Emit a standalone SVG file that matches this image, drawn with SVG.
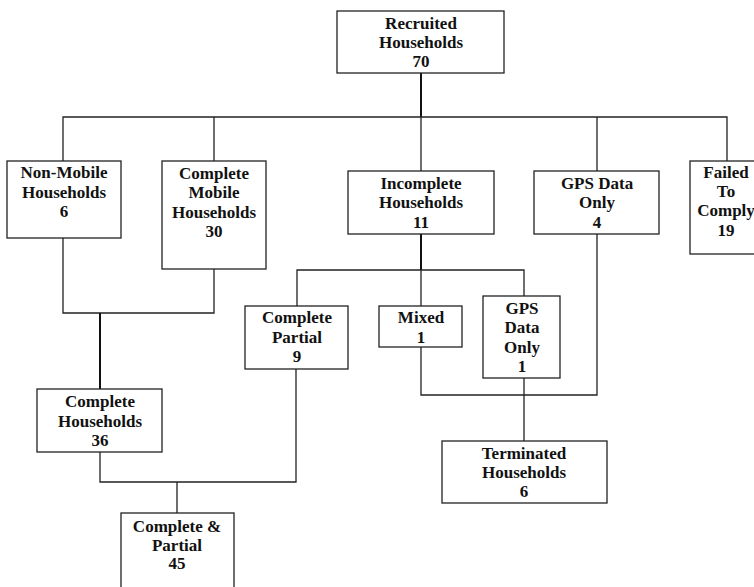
<svg xmlns="http://www.w3.org/2000/svg" width="754" height="587" viewBox="0 0 754 587">
<style>
.box{fill:#fff;stroke:#222;stroke-width:1.3}
.t{font-family:"Liberation Serif","Times New Roman",serif;font-weight:bold;font-size:17px;fill:#111;text-anchor:middle}
.c{fill:none;stroke:#222;stroke-width:1.3}
.k{fill:none;stroke:#111;stroke-width:2}
</style>
<rect width="754" height="587" fill="#fff"/>
<g id="connectors">
<path class="k" d="M421,73 V117"/>
<path class="c" d="M63,161 V117 H727 V161 M214,117 V161 M421,117 V171 M597,117 V171"/>
<path class="k" d="M421,234 V270"/>
<path class="c" d="M297,306 V270 H524 V296 M421,270 V306"/>
<path class="c" d="M421,347 V395 H597 V234 M524,378 V441"/>
<path class="c" d="M63,238 V313 H214 V269"/>
<path class="k" d="M100,313 V389"/>
<path class="c" d="M100,452 V482 H296 V369 M177,482 V513"/>
</g>
<g id="recruited"><rect class="box" x="337" y="11" width="167" height="62"/>
<text class="t" x="421" y="29">Recruited</text><text class="t" x="421" y="48">Households</text><text class="t" x="421" y="67">70</text></g>
<g id="nonmobile"><rect class="box" x="7" y="161" width="114" height="77"/>
<text class="t" x="64" y="178">Non-Mobile</text><text class="t" x="64" y="198">Households</text><text class="t" x="64" y="217">6</text></g>
<g id="completemobile"><rect class="box" x="162" y="161" width="104" height="108"/>
<text class="t" x="214" y="179">Complete</text><text class="t" x="214" y="198">Mobile</text><text class="t" x="214" y="218">Households</text><text class="t" x="214" y="237">30</text></g>
<g id="incomplete"><rect class="box" x="348" y="171" width="146" height="63"/>
<text class="t" x="421" y="189">Incomplete</text><text class="t" x="421" y="208">Households</text><text class="t" x="421" y="228">11</text></g>
<g id="gps4"><rect class="box" x="534" y="171" width="125" height="63"/>
<text class="t" x="597" y="189">GPS Data</text><text class="t" x="597" y="208">Only</text><text class="t" x="597" y="228">4</text></g>
<g id="failed"><rect class="box" x="690" y="161" width="74" height="93"/>
<text class="t" x="726" y="178">Failed</text><text class="t" x="726" y="197">To</text><text class="t" x="726" y="216">Comply</text><text class="t" x="726" y="236">19</text></g>
<g id="completepartial"><rect class="box" x="245" y="306" width="103" height="63"/>
<text class="t" x="297" y="323">Complete</text><text class="t" x="297" y="343">Partial</text><text class="t" x="297" y="362">9</text></g>
<g id="mixed"><rect class="box" x="379" y="306" width="83" height="41"/>
<text class="t" x="421" y="323">Mixed</text><text class="t" x="421" y="343">1</text></g>
<g id="gps1"><rect class="box" x="483" y="296" width="77" height="82"/>
<text class="t" x="522" y="314">GPS</text><text class="t" x="522" y="333">Data</text><text class="t" x="522" y="353">Only</text><text class="t" x="522" y="372">1</text></g>
<g id="completehouseholds"><rect class="box" x="37" y="389" width="125" height="63"/>
<text class="t" x="100" y="407">Complete</text><text class="t" x="100" y="427">Households</text><text class="t" x="100" y="446">36</text></g>
<g id="terminated"><rect class="box" x="442" y="441" width="165" height="62"/>
<text class="t" x="524" y="459">Terminated</text><text class="t" x="524" y="478">Households</text><text class="t" x="524" y="497">6</text></g>
<g id="completeandpartial"><rect class="box" x="121" y="513" width="113" height="80"/>
<text class="t" x="177" y="532">Complete &amp;</text><text class="t" x="177" y="551">Partial</text><text class="t" x="177" y="569">45</text></g>
</svg>
